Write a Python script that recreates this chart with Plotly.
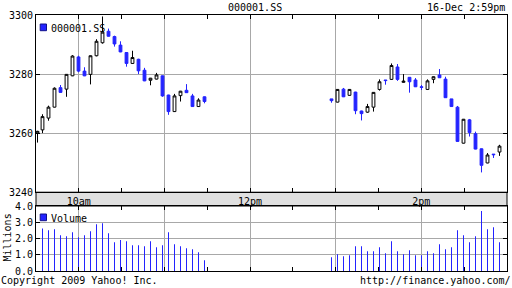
import plotly.graph_objects as go

# ---- data ----
# bar times, in minutes after the 9:30 open (session breaks 11:30-13:00)
minutes_since_open = [
    1.05, 4.55, 8.76, 12.96, 17.17, 21.37, 25.57, 29.78, 33.98, 38.18,
    42.39, 46.59, 50.80, 55.00, 59.20, 63.41, 67.61, 71.82, 76.02, 80.22,
    84.43, 88.63, 92.83, 97.04, 101.24, 105.45, 109.65, 113.85, 118.06,
    207.04, 211.24, 215.45, 219.65, 223.85, 228.06, 232.26, 236.46, 240.67, 244.87,
    249.08, 253.28, 257.48, 261.69, 265.89, 270.10, 274.30, 278.50, 282.71, 286.91,
    291.11, 295.32, 299.52, 303.73, 307.93, 312.13, 316.34, 320.54, 324.75,
]
opens = [
    3260.0, 3261.1, 3265.1, 3268.8, 3275.4, 3274.9, 3279.4, 3285.8, 3281.0, 3279.9,
    3286.2, 3290.6, 3294.5, 3292.7, 3289.8, 3287.3, 3283.6, 3285.0, 3281.3, 3277.9,
    3278.3, 3279.4, 3272.9, 3267.3, 3272.7, 3274.5, 3272.6, 3269.0, 3272.3,
    3271.6, 3270.5, 3274.9, 3272.8, 3273.9, 3267.5, 3267.1, 3268.8, 3274.8, 3278.0,
    3278.2, 3282.4, 3277.2, 3278.9, 3278.0, 3275.7, 3274.8, 3278.2, 3279.7, 3278.3,
    3271.6, 3268.8, 3256.6, 3264.5, 3259.8, 3254.7, 3249.9, 3252.9, 3253.6,
]
highs = [
    3260.8, 3266.4, 3269.3, 3275.5, 3276.3, 3280.0, 3286.4, 3286.2, 3282.3, 3286.3,
    3291.8, 3299.5, 3295.4, 3293.0, 3291.1, 3287.4, 3287.9, 3285.2, 3282.1, 3278.7,
    3280.4, 3279.5, 3273.0, 3273.3, 3274.3, 3276.6, 3273.3, 3271.8, 3272.4,
    3271.6, 3274.9, 3275.3, 3274.9, 3274.0, 3267.6, 3269.9, 3273.9, 3278.2, 3278.0,
    3283.6, 3283.4, 3280.0, 3278.9, 3278.65, 3276.3, 3278.2, 3279.2, 3281.7, 3279.1,
    3271.6, 3269.2, 3264.8, 3264.8, 3260.5, 3254.8, 3253.25, 3252.9, 3256.05,
]
lows = [
    3256.8, 3260.0, 3264.2, 3268.7, 3273.7, 3272.3, 3279.3, 3280.6, 3279.3, 3276.5,
    3286.0, 3290.3, 3292.7, 3289.3, 3287.4, 3282.5, 3283.5, 3280.0, 3277.6, 3276.2,
    3278.2, 3272.3, 3266.2, 3267.2, 3270.7, 3273.6, 3268.9, 3268.9, 3270.1,
    3270.3, 3270.4, 3272.2, 3272.7, 3266.4, 3264.3, 3266.9, 3267.3, 3274.4, 3276.4,
    3278.0, 3277.7, 3277.1, 3273.7, 3275.6, 3274.6, 3274.6, 3276.9, 3278.7, 3272.0,
    3268.9, 3257.1, 3256.5, 3258.85, 3254.5, 3246.7, 3249.8, 3251.6, 3252.3,
]
closes = [
    3260.6, 3265.6, 3268.8, 3275.2, 3273.8, 3279.9, 3286.1, 3281.0, 3279.4, 3286.2,
    3291.1, 3294.2, 3292.8, 3290.2, 3287.5, 3283.6, 3285.6, 3281.1, 3277.7, 3278.6,
    3279.7, 3272.6, 3267.3, 3272.6, 3274.2, 3273.7, 3269.0, 3271.2, 3270.7,
    3271.0, 3274.8, 3272.3, 3274.8, 3267.6, 3266.6, 3269.0, 3273.8, 3277.4, 3277.8,
    3282.9, 3278.2, 3277.6, 3277.4, 3275.7, 3275.5, 3277.7, 3279.1, 3278.75, 3272.0,
    3269.0, 3257.2, 3264.7, 3260.2, 3254.6, 3249.1, 3252.6, 3252.7, 3255.6,
]
# volume in millions of shares
volumes = [
    None, 2.62, 2.51, 2.57, 2.20, 2.14, 2.39, 2.08, 2.20, 2.45,
    2.88, 2.94, 2.33, 1.77, 1.90, 1.83, 1.59, 1.59, 1.52, 1.83,
    1.46, 1.59, 2.39, 1.65, 1.52, 1.40, 1.34, 1.15, 0.66,
    0.85, 1.03, 0.91, 0.97, 1.52, 1.52, 1.21, 1.21, 1.46, 1.09,
    1.83, 1.21, 1.03, 1.28, 0.97, 0.97, 1.21, 1.09, 1.65, 1.34,
    1.46, 2.51, 2.20, 1.77, 2.14, 3.69, 2.57, 2.69, 1.77,
]
hour_ticks = [30, 90, 150, 210, 270]
hour_labels = ["10am", "", "12pm", "", "2pm"]
half_hour_ticks = [60, 120, 180, 240, 300]
price_ticks = [3240, 3260, 3280, 3300]
volume_ticks = [0, 1, 2, 3, 4]

symbol = "000001.SS"
timestamp = "16-Dec 2:59pm"
copyright_text = "Copyright 2009 Yahoo! Inc."
source_text = "http://finance.yahoo.com/"

# ---- styles ----
BLUE = "#2323ff"
GRID = "#a8a8a8"
FONT = "DejaVu Sans Mono"
tfont = dict(family=FONT, size=10, color="black")

MAIN_BOTTOM = 0.3078
VOL_TOP = 0.2539

fig = go.Figure()
fig.add_trace(go.Candlestick(
    x=minutes_since_open, open=opens, high=highs, low=lows, close=closes,
    increasing=dict(line=dict(color="black", width=1), fillcolor="white"),
    decreasing=dict(line=dict(color=BLUE, width=1), fillcolor=BLUE),
    whiskerwidth=0, showlegend=False, xaxis="x", yaxis="y", hoverinfo="skip",
))
fig.add_trace(go.Bar(
    x=minutes_since_open, y=volumes, width=0.3,
    marker=dict(color=BLUE, line=dict(width=0)),
    xaxis="x2", yaxis="y2", showlegend=False, hoverinfo="skip",
))

xcommon = dict(
    range=[0, 330], tickmode="array", tickvals=hour_ticks, ticktext=hour_labels,
    ticks="inside", ticklen=4, tickcolor="black", tickwidth=1,
    showgrid=True, gridcolor=GRID, gridwidth=1,
    showline=True, linecolor="black", linewidth=1, zeroline=False,
    minor=dict(tickmode="array", tickvals=half_hour_ticks, ticks="inside",
               ticklen=4, tickcolor="black", tickwidth=1, showgrid=False),
    automargin=False, fixedrange=True, tickfont=tfont, mirror="ticks",
)
ycommon = dict(
    ticks="inside", ticklen=4, tickcolor="black", tickwidth=1,
    showgrid=True, gridcolor=GRID, gridwidth=1,
    showline=True, linecolor="black", linewidth=1, zeroline=False,
    automargin=False, fixedrange=True, tickfont=tfont, mirror="ticks",
)

fig.update_layout(
    width=512, height=288,
    margin=dict(l=36, r=5, t=15, b=17, pad=0),
    paper_bgcolor="white", plot_bgcolor="white",
    boxgap=0.2,
    font=tfont,
    xaxis=dict(xcommon, domain=[0, 1], anchor="y",
               rangeslider=dict(visible=False)),
    xaxis2=dict(xcommon, domain=[0, 1], anchor="y2", matches="x",
                showticklabels=False),
    yaxis=dict(ycommon, domain=[MAIN_BOTTOM, 1], range=[3240, 3300],
               tickmode="array", tickvals=price_ticks),
    yaxis2=dict(ycommon, domain=[0, VOL_TOP], range=[0, 4],
                tickmode="array", tickvals=volume_ticks, tickformat=".1f"),
    showlegend=False,
)

def px(x):
    return (x - 36) / 471.0

def py(y):
    return (271 - y) / 256.0

fig.add_shape(type="rect", xref="paper", yref="paper", x0=0, x1=1,
              y0=VOL_TOP, y1=MAIN_BOTTOM, fillcolor="#e0e0e0",
              line=dict(color="black", width=1), layer="below")
# legend swatches
for y0, y1 in [(24, 30.7), (214, 220.7)]:
    fig.add_shape(type="rect", xref="paper", yref="paper",
                  x0=px(40.2), x1=px(46.5), y0=py(y1), y1=py(y0),
                  fillcolor=BLUE, line=dict(color="#10108a", width=1), layer="above")

annots = [
    dict(text=symbol, x=px(255), y=py(7), xanchor="center"),
    dict(text=timestamp, x=px(505.5), y=py(7), xanchor="right"),
    dict(text=copyright_text, x=px(0), y=py(280.5), xanchor="left"),
    dict(text=source_text, x=px(511.5), y=py(280.5), xanchor="right"),
    dict(text=symbol, x=px(49.5), y=py(28.5), xanchor="left"),
    dict(text="Volume", x=px(49.5), y=py(218.5), xanchor="left"),
    dict(text="Millions", x=px(6.5), y=py(238), xanchor="center", textangle=-90),
]
for a in annots:
    fig.add_annotation(xref="paper", yref="paper", yanchor="middle",
                       showarrow=False, borderpad=0, font=tfont, **a)

fig.write_html("out.html")
